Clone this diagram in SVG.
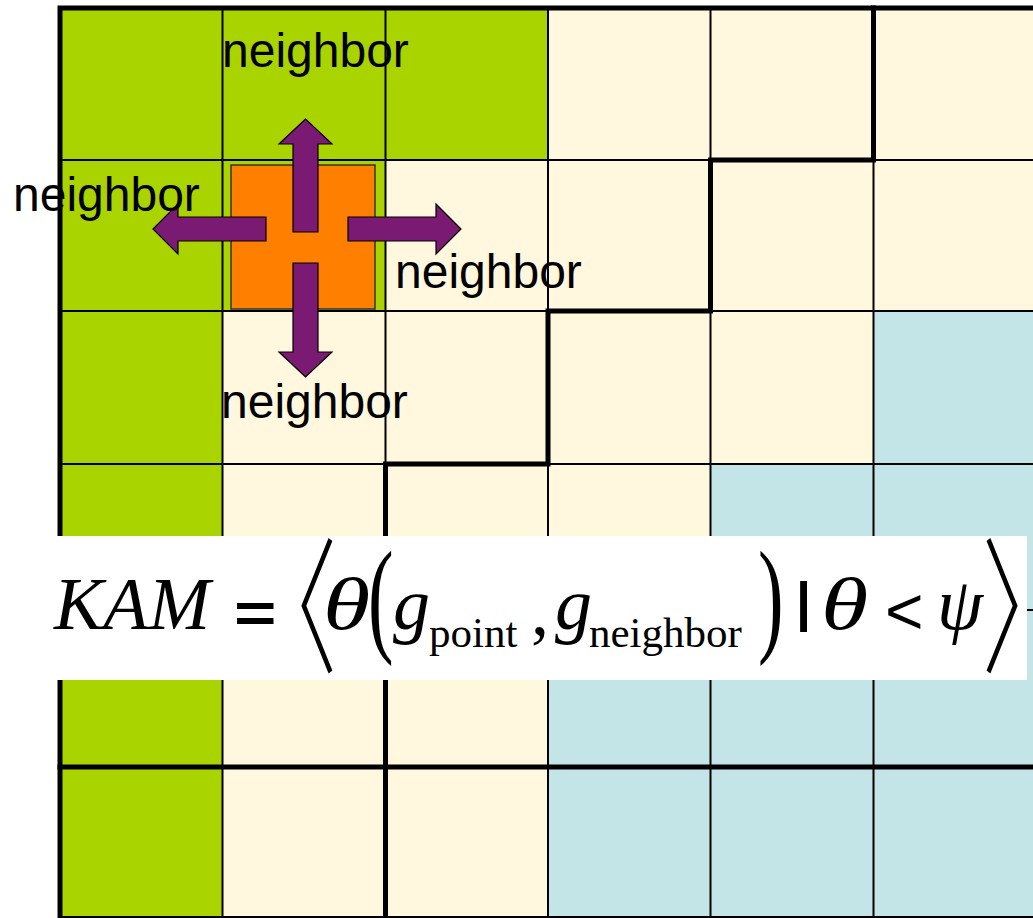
<svg xmlns="http://www.w3.org/2000/svg" width="1033" height="918" viewBox="0 0 1033 918">
<style>
.g{fill:#AAD400}.c{fill:#FFF7DE}.b{fill:#C4E5E8}
.thin{stroke:#000;stroke-width:2;fill:none}
.thick{stroke:#000;stroke-width:5;fill:none;stroke-linecap:square}
.arr{fill:#7B1A73;stroke:#000;stroke-width:1.2}
.lbl{font-family:"Liberation Sans",Arial,sans-serif;font-size:48px;fill:#000}
.mi{font-family:"Liberation Serif","Times New Roman",serif;font-style:italic;font-size:74px;fill:#000}
.sub{font-family:"Liberation Serif","Times New Roman",serif;font-size:43px;fill:#000}
.rm{font-family:"Liberation Serif","Times New Roman",serif;fill:#000}
.sy{font-family:"Liberation Sans",Arial,sans-serif;fill:#000}
.dl{font-family:"Noto Sans CJK JP","Noto Sans CJK SC",sans-serif;font-weight:300;fill:#000}
</style>
<rect width="1033" height="918" fill="#fff"/>
<g id="grains">
  <rect class="g" x="60" y="8" width="163" height="152"/>
  <rect class="g" x="222" y="8" width="164" height="152"/>
  <rect class="g" x="385" y="8" width="164" height="152"/>
  <rect class="c" x="548" y="8" width="485" height="152"/>
  <rect class="g" x="60" y="160" width="163" height="151"/>
  <rect class="g" x="222" y="160" width="164" height="151"/>
  <rect class="c" x="385" y="160" width="648" height="151"/>
  <rect class="g" x="60" y="311" width="163" height="153"/>
  <rect class="c" x="222" y="311" width="652" height="153"/>
  <rect class="b" x="873" y="311" width="160" height="153"/>
  <rect class="g" x="60" y="464" width="163" height="147"/>
  <rect class="c" x="222" y="464" width="489" height="147"/>
  <rect class="b" x="710" y="464" width="323" height="147"/>
  <rect class="g" x="60" y="610" width="163" height="308"/>
  <rect class="c" x="222" y="610" width="327" height="308"/>
  <rect class="b" x="548" y="610" width="485" height="308"/>
</g>
<g id="grid-lines">
  <path class="thin" d="M222.5 8V918M385.5 8V918M548 8V918M710.5 8V918M873.5 8V918"/>
  <path class="thin" d="M60 160H1033M60 311H1033M60 464H1033M60 610H1033M60 917H1033"/>
  <path class="thick" d="M60 8H1035M60 8V920"/>
  <path class="thick" d="M873.5 8V160H710.5V311H548V464H385.5V918"/>
  <path class="thick" stroke-width="4" d="M60 767H1035"/>
</g>
<g id="center-point">
  <rect x="231" y="165" width="144" height="144" fill="#FF7F00" stroke="#333" stroke-width="1.5"/>
</g>
<g id="connectors">
  <polygon class="arr" points="293,232 293,144 279,144 305.5,119 332,144 318,144 318,232"/>
  <polygon class="arr" points="293,263 293,352 279,352 305.5,377 332,352 318,352 318,263"/>
  <polygon class="arr" points="266,217 178,217 178,204 153,229 178,254 178,241 266,241"/>
  <polygon class="arr" points="348,217 436,217 436,204 461,229 436,254 436,241 348,241"/>
</g>
<g id="labels">
  <text class="lbl" x="222" y="67">neighbor</text>
  <text class="lbl" x="13" y="211">neighbor</text>
  <text class="lbl" x="395" y="288">neighbor</text>
  <text class="lbl" x="221" y="418">neighbor</text>
</g>
<g id="formula">
  <rect x="40" y="536" width="987" height="144" fill="#fff"/>
  <text class="mi" x="54" y="629">KAM</text>
  <text class="sy" transform="translate(234,632) scale(1.3,1)" font-size="56" font-weight="bold" letter-spacing="-24">=</text>
  <text class="dl" transform="translate(247,661) scale(1,1.63)" font-size="90" letter-spacing="-52">〈</text>
  <text class="mi" transform="translate(323,629) scale(1.3,1)">θ</text>
  <text class="rm" transform="translate(368,639) scale(0.6,1)" font-size="128">(</text>
  <text class="mi" x="393" y="629">g</text>
  <text class="sub" x="429" y="647">point</text>
  <text class="rm" x="531" y="634" font-size="72">,</text>
  <text class="mi" x="555" y="629">g</text>
  <text class="sub" x="589" y="647">neighbor</text>
  <text class="rm" transform="translate(758,639) scale(0.6,1)" font-size="128">)</text>
  <text class="sy" x="796" y="620" font-size="54" font-weight="bold">|</text>
  <text class="mi" transform="translate(821,629) scale(1.3,1)">θ</text>
  <text class="sy" x="885" y="634" font-size="66">&lt;</text>
  <text class="mi" x="937" y="629">ψ</text>
  <text class="dl" transform="translate(982,661) scale(1,1.63)" font-size="90" letter-spacing="-52">〉</text>
</g>
</svg>
